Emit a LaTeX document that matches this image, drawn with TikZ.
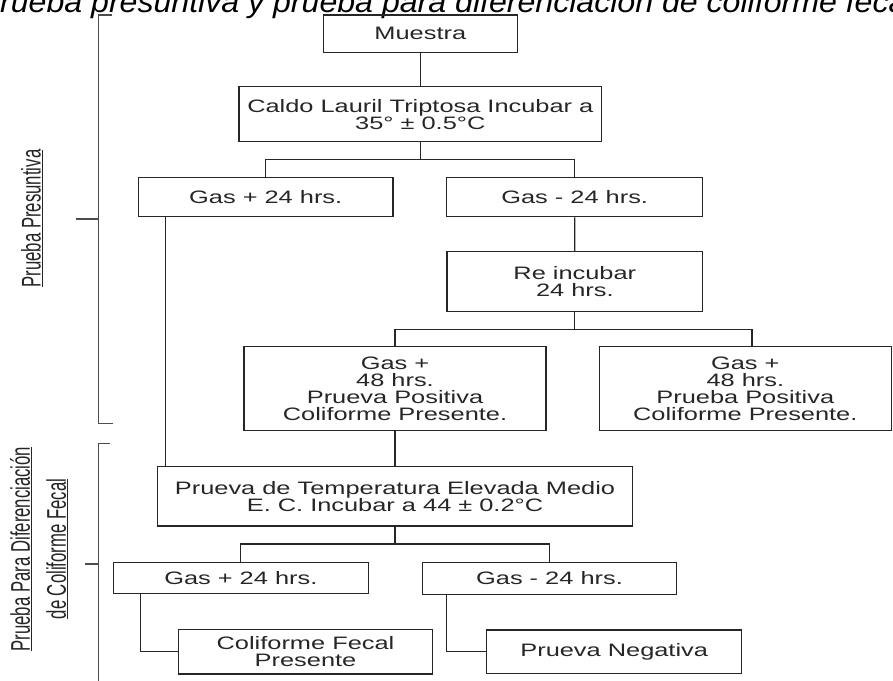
\documentclass[tikz,border=0pt]{standalone}
\usepackage{fontspec}
\setmainfont{Liberation Sans}
\newfontfamily\boxfont[FakeStretch=1.41]{Liberation Sans}
\newfontfamily\sidefont[FakeStretch=0.62]{Liberation Sans}
\newfontfamily\titlefont[FakeStretch=1.07]{Liberation Sans}
\begin{document}
\begin{tikzpicture}
  [x=1pt, y=-1pt,
   box/.style={draw=black!85, line width=1.2pt, inner sep=0pt, align=center, text=black!85,
     font=\boxfont\fontsize{18}{17.2}\selectfont},
   link/.style={draw=black!85, line width=1.2pt},
   brace/.style={draw=black!70, line width=1.2pt},
   side/.style={rotate=90, align=center, text=black!85, inner sep=0pt,
     font=\sidefont\fontsize{27}{36}\selectfont}]

  \useasboundingbox (0,0) rectangle (893,680);

  \node[anchor=base west, inner sep=0pt, font=\titlefont\itshape\fontsize{30}{30}\selectfont]
    (title) at (0,12.5) {\llap{P}rueba presuntiva y prueba para diferenciación de coliforme fecal};

  \node[box, minimum width=194pt, minimum height=37.3pt] (muestra) at (420.3,33.7) {Muestra};
  \node[box, minimum width=362.7pt, minimum height=55pt] (caldo) at (420.3,114.2)
    {Caldo Lauril Triptosa Incubar a\\35° ± 0.5°C};
  \node[box, minimum width=254.7pt, minimum height=39.4pt] (gaspos1) at (265.7,197) {Gas + 24 hrs.};
  \node[box, minimum width=256pt, minimum height=39.5pt] (gasneg1) at (574.7,197) {Gas - 24 hrs.};
  \node[box, minimum width=255.7pt, minimum height=60pt] (reinc) at (574.8,281.7) {Re incubar\\24 hrs.};
  \node[box, minimum width=302pt, minimum height=84pt] (gas48a) at (395,388.7)
    {Gas +\\48 hrs.\\Prueva Positiva\\Coliforme Presente.};
  \node[box, minimum width=292pt, minimum height=84pt] (gas48b) at (745.3,388.7)
    {Gas +\\48 hrs.\\Prueba Positiva\\Coliforme Presente.};
  \node[box, minimum width=474.4pt, minimum height=59.3pt] (ptemp) at (395,496.3)
    {Prueva de Temperatura Elevada Medio\\E. C. Incubar a 44 ± 0.2°C};
  \node[box, minimum width=255pt, minimum height=31pt] (gaspos2) at (240.8,577.8) {Gas + 24 hrs.};
  \node[box, minimum width=254.4pt, minimum height=32pt] (gasneg2) at (549.5,578.3) {Gas - 24 hrs.};
  \node[box, minimum width=254.4pt, minimum height=44.7pt] (colfecal) at (305.5,651.7)
    {Coliforme Fecal\\Presente};
  \node[box, minimum width=255pt, minimum height=43.3pt] (negativa) at (614.2,651.7) {Prueva Negativa};

  \foreach \from/\to in {muestra/caldo, gasneg1/reinc, gas48a/ptemp}
    \draw[link] (\from.south) -- (\to.north);
  \foreach \from/\to in {caldo/gaspos1, caldo/gasneg1, reinc/gas48a, ptemp/gaspos2, ptemp/gasneg2}
    \draw[link] (\from.south) -- ++(0,17.5) -| (\to.north);
  \draw[link] (reinc.south) -- ++(0,17.5) -| ([xshift=6.7pt]gas48b.north);

  \coordinate (d1) at ([xshift=27.4pt]gaspos1.south west);
  \draw[link] (d1) -- (d1 |- ptemp.north);
  \coordinate (d2) at ([xshift=27.4pt]gaspos2.south west);
  \draw[link] (d2) |- (colfecal.west);
  \coordinate (d3) at ([xshift=25pt]gasneg2.south west);
  \draw[link] (d3) |- (negativa.west);

  % brackets at the left
  \draw[brace] (111.7,15) -- (98.3,15) -- (98.3,423.3) -- (113,423.3);
  \draw[brace] (98.3,219) -- (76,219);
  \draw[brace] (110,443.3) -- (98.3,443.3) -- (98.3,690);
  \draw[brace] (98.3,564) -- (85,564);

  \node[side] (presuntiva) at (32,218.5) {\underline{Prueba Presuntiva}};
  \node[side] (diferencia) at (39,549)
    {\underline{Prueba Para Diferenciación}\\\underline{de Coliforme Fecal}};
\end{tikzpicture}
\end{document}
